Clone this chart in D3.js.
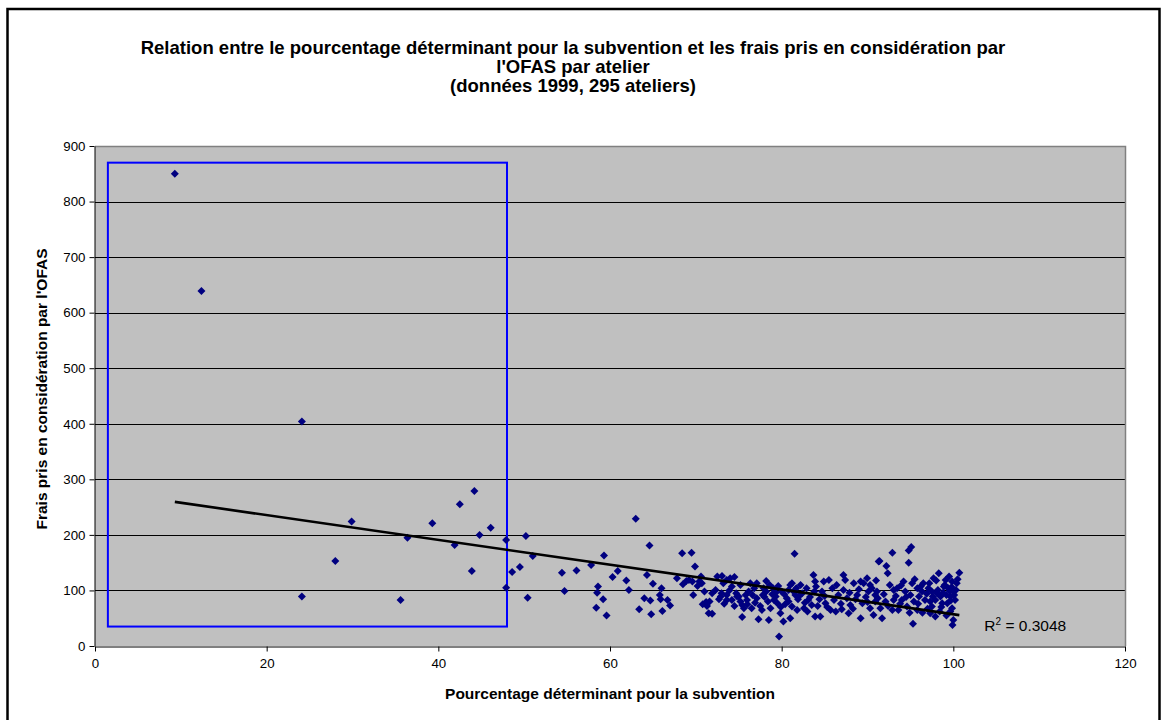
<!DOCTYPE html>
<html>
<head>
<meta charset="utf-8">
<script src="https://cdn.jsdelivr.net/npm/d3@7"></script>
<style>
  body { margin: 0; background: #fff; }
  svg { display: block; font-family: "Liberation Sans", Arial, sans-serif; }
</style>
</head>
<body>
<div id="chart"></div>
<script>
// chart texts
var titleLines = ["Relation entre le pourcentage déterminant pour la subvention et les frais pris en considération par",
                  "l'OFAS par atelier",
                  "(données 1999, 295 ateliers)"]
var xTitle = "Pourcentage déterminant pour la subvention"
var yTitle = "Frais pris en considération par l'OFAS"

// tick values
var xTicks = [0, 20, 40, 60, 80, 100, 120]
var yTicks = [0, 100, 200, 300, 400, 500, 600, 700, 800, 900]

// linear trend
var trendSlope = -2.23
var trendIntercept = 280.2
var rSquared = "0.3048"

// highlighted zone (blue box), in data units
var boxX = [1.5, 48]
var boxY = [35, 870]

// one point per atelier: pourcentage (x) / frais (y)
var pourcentage = [
  9.3, 12.4, 24.1, 24.1, 28.0, 29.9, 35.6, 36.4, 39.3, 41.9, 42.5, 44.2, 43.9, 44.8, 46.1, 47.9, 47.9, 48.6, 49.5, 50.2, 50.4, 51.0,
  54.4, 54.7, 56.1, 57.8, 59.3, 58.6, 58.5, 59.2, 58.4, 59.6, 60.3, 60.9, 61.9, 62.2, 63.0, 63.4, 64.3, 64.6, 64.0, 64.7, 64.8, 65.0,
  66.0, 65.8, 65.9, 66.7, 67.0, 66.1, 67.8, 68.4, 69.5, 69.9, 68.5, 68.9, 69.2, 69.7, 70.4, 70.2, 70.6, 70.8, 71.2, 71.3, 71.5,
  69.6, 70.7, 71.1, 71.6, 71.9, 73.05, 73.2, 73.6, 74.5, 74.2, 72.9, 73.6, 74.2, 75.0, 75.4, 75.6, 75.4, 76.15, 75.96, 76.5, 76.35,
  77.1, 77.1, 77.7, 77.3, 78.2, 78.2, 78.4, 78.7, 78.5, 79.3, 79.5, 79.7, 79.85, 80.2, 80.0, 80.6, 81.0, 81.5, 81.0, 81.2, 81.8, 81.6,
  72.5, 74.0, 73.6, 74.8, 72.3, 73.0, 75.2, 76.8, 77.8, 79.0, 80.4, 79.1,
  81.2, 81.4, 82.2, 82.0, 82.6, 83.1, 83.7, 83.9, 83.8, 83.5, 83.9, 84.5, 84.9, 84.7, 85.1, 85.5, 85.7, 86.1, 86.3, 86.6, 87.2, 87.4,
  87.2, 87.6, 88.0, 87.8, 88.4, 88.8, 89.2, 89.55, 89.2, 89.4, 90.1, 90.3, 90.7, 90.9, 91.3, 89.95,
  92.9, 94.8, 95.1, 91.4, 92.2, 92.35, 94.8, 90.3, 91.1, 90.9, 91.7, 91.5, 92.1, 93.05, 92.9, 93.45, 94.2, 94.4, 94.0, 95.2, 95.4,
  95.8, 95.3, 95.0, 96.35, 96.5, 96.7, 97.3, 97.5, 97.1, 97.7, 98.3, 98.1, 97.9, 98.7, 98.9, 99.1, 99.5, 99.85, 99.65, 100.0, 100.2,
  99.85, 100.0, 99.9, 100.7, 100.4, 99.65, 99.3, 98.5, 97.9, 97.5, 97.3, 95.8, 96.0, 94.6, 93.6, 93.05,
  73.9, 74.7, 75.8, 76.9, 77.5, 78.0, 78.9, 79.6, 80.3, 80.8, 81.9, 82.4, 82.9, 83.3, 84.2, 84.0, 85.0, 85.9, 86.4, 86.9, 87.9, 88.6,
  89.0, 89.8, 90.5, 91.0, 91.9, 92.6, 93.3, 93.9, 94.5, 95.5, 95.9, 96.2, 96.9, 97.2, 97.6, 98.0, 98.2, 98.6, 98.8, 99.0, 99.2, 99.4,
  99.6, 99.8, 100.1, 100.3, 100.5, 99.7, 99.2, 98.4, 97.0, 96.4, 94.9, 93.8, 92.4, 91.2, 90.0, 88.3, 87.0, 85.3, 84.4, 83.0, 82.7,
  81.7, 80.8, 79.9, 79.3, 78.6, 77.9, 76.6, 76.0, 75.2, 74.5, 73.3, 72.7, 71.9, 71.0
]
var frais = [
  850, 639, 404, 89, 153, 224, 83, 195, 221, 182, 255, 279, 135, 200, 213, 191, 105, 133, 142, 198, 87, 162,
  132, 99, 136, 146, 163, 107, 96, 84, 69, 55, 124, 135, 118, 101, 229, 66, 128, 181, 86, 82, 57, 112,
  104, 92, 84, 83, 73, 63, 122, 167, 168, 143, 111, 117, 119, 92, 116, 108, 125, 75, 79, 72, 59,
  116, 113, 77, 80, 58, 126, 113, 119, 124, 107, 89, 83, 83, 89, 74, 68, 52, 98, 83, 68, 113,
  113, 86, 65, 48, 117, 98, 80, 68, 47, 89, 77, 17, 59, 44, 98, 86, 110, 166, 50, 71, 65, 92,
  125, 122, 92, 89, 101, 95, 110, 104, 92, 104, 75, 83,
  113, 98, 110, 89, 68, 83, 128, 116, 98, 74, 53, 53, 116, 98, 77, 119, 65, 83, 62, 92, 128, 119,
  101, 86, 74, 59, 113, 92, 116, 113, 50, 77, 98, 68, 56, 92, 152, 122,
  168, 172, 178, 153, 144, 131, 150, 110, 98, 80, 50, 68, 80, 101, 65, 104, 116, 98, 83, 113, 80,
  65, 40, 92, 98, 113, 83, 59, 71, 104, 122, 131, 95, 53, 77, 107, 119, 125, 116, 89, 98, 83,
  68, 47, 38, 132, 113, 62, 77, 89, 83, 98, 80, 104, 89, 71, 65, 83,
  100, 95, 92, 78, 72, 88, 93, 108, 93, 80, 84, 95, 104, 88, 72, 107, 90, 104, 110, 76, 96, 84,
  102, 88, 104, 118, 93, 110, 90, 109, 88, 120, 76, 107, 94, 113, 89, 118, 101, 70, 96, 110, 92, 104,
  99, 106, 92, 101, 120, 82, 55, 62, 67, 60, 60, 76, 72, 86, 79, 67, 66, 70, 84, 62, 78,
  104, 101, 70, 96, 110, 104, 92, 75, 80, 72, 76, 84, 95, 98
]

var width = 1167
var height = 720
var plot = {left: 95, right: 1125, top: 146, bottom: 646}

var svg = d3.select("#chart")
  .append("svg")
  .attr("width", width)
  .attr("height", height)

// outer chart frame
svg.append("rect")
  .attr("x", 7.5).attr("y", 9)
  .attr("width", 1152).attr("height", 730)
  .attr("fill", "white")
  .attr("stroke", "black")
  .attr("stroke-width", 2.5)

var x = d3.scaleLinear().domain([0, 120]).range([plot.left, plot.right])
var y = d3.scaleLinear().domain([0, 900]).range([plot.bottom, plot.top])

// grey plot area
svg.append("rect")
  .attr("x", plot.left).attr("y", plot.top)
  .attr("width", plot.right - plot.left).attr("height", plot.bottom - plot.top)
  .attr("fill", "#c0c0c0")

// horizontal gridlines
svg.selectAll("line.grid")
  .data(yTicks.filter(function(d){ return d > 0 }))
  .enter()
  .append("line")
  .attr("class", "grid")
  .attr("x1", plot.left).attr("x2", plot.right)
  .attr("y1", function(d){ return Math.round(y(d)) + 0.5 })
  .attr("y2", function(d){ return Math.round(y(d)) + 0.5 })
  .attr("stroke", "black")
  .attr("stroke-width", 1)

// plot border (top + right, grey)
svg.append("path")
  .attr("d", "M" + plot.left + "," + (plot.top + 0.5) + "H" + (plot.right + 0.5) + "V" + plot.bottom)
  .attr("fill", "none")
  .attr("stroke", "#808080")
  .attr("stroke-width", 1.5)

// axes
svg.append("g")
  .attr("transform", "translate(0," + (plot.bottom + 0.5) + ")")
  .call(d3.axisBottom(x).tickValues(xTicks).tickSize(5).tickSizeOuter(0).tickPadding(7))
svg.append("g")
  .attr("transform", "translate(" + (plot.left - 0.5) + ",0)")
  .call(d3.axisLeft(y).tickValues(yTicks).tickSize(5).tickSizeOuter(0).tickPadding(4))

svg.selectAll(".tick text")
  .attr("font-family", "'Liberation Sans', Arial, sans-serif")
  .attr("font-size", 13.3)
  .attr("fill", "black")
svg.selectAll(".domain, .tick line").attr("stroke", "black")

// blue highlight box
svg.append("rect")
  .attr("x", x(boxX[0])).attr("y", y(boxY[1]))
  .attr("width", x(boxX[1]) - x(boxX[0]))
  .attr("height", y(boxY[0]) - y(boxY[1]))
  .attr("fill", "none")
  .attr("stroke", "#0000ff")
  .attr("stroke-width", 2)

// scatter points, excel style diamonds
var points = pourcentage.map(function(d, i){ return {x: d, y: frais[i]} })
var diamond = d3.symbol().type(d3.symbolSquare).size(32)

svg.selectAll("path.pt")
  .data(points)
  .enter()
  .append("path")
  .attr("class", "pt")
  .attr("d", diamond)
  .attr("transform", function(d){ return "translate(" + x(d.x) + "," + y(d.y) + ") rotate(45)" })
  .attr("fill", "#000080")

// trendline over the data range
var xExt = d3.extent(pourcentage)
var trend = xExt.map(function(v){ return [v, trendIntercept + trendSlope * v] })
svg.append("path")
  .datum(trend)
  .attr("d", d3.line().x(function(d){ return x(d[0]) }).y(function(d){ return y(d[1]) }))
  .attr("stroke", "black")
  .attr("stroke-width", 2.6)
  .attr("fill", "none")

// R² label
var r2 = svg.append("text")
  .attr("x", x(xExt[1]) + 25)
  .attr("y", y(trend[1][1]) + 16)
  .attr("font-size", 15.5)
r2.append("tspan").text("R")
r2.append("tspan").attr("font-size", 10).attr("dy", -6).text("2")
r2.append("tspan").attr("dy", 6).text(" = " + rSquared)

// title
svg.append("text")
  .attr("text-anchor", "middle")
  .attr("font-weight", "bold")
  .attr("font-size", 18.5)
  .selectAll("tspan")
  .data(titleLines)
  .enter()
  .append("tspan")
  .attr("x", 573)
  .attr("y", function(d, i){ return 54 + i * 19 })
  .text(function(d){ return d })

// axis titles
svg.append("text")
  .attr("x", (plot.left + plot.right) / 2)
  .attr("y", 699)
  .attr("text-anchor", "middle")
  .attr("font-weight", "bold")
  .attr("font-size", 15.5)
  .text(xTitle)

svg.append("text")
  .attr("transform", "translate(47,389) rotate(-90)")
  .attr("text-anchor", "middle")
  .attr("font-weight", "bold")
  .attr("font-size", 15.5)
  .text(yTitle)
</script>
</body>
</html>
